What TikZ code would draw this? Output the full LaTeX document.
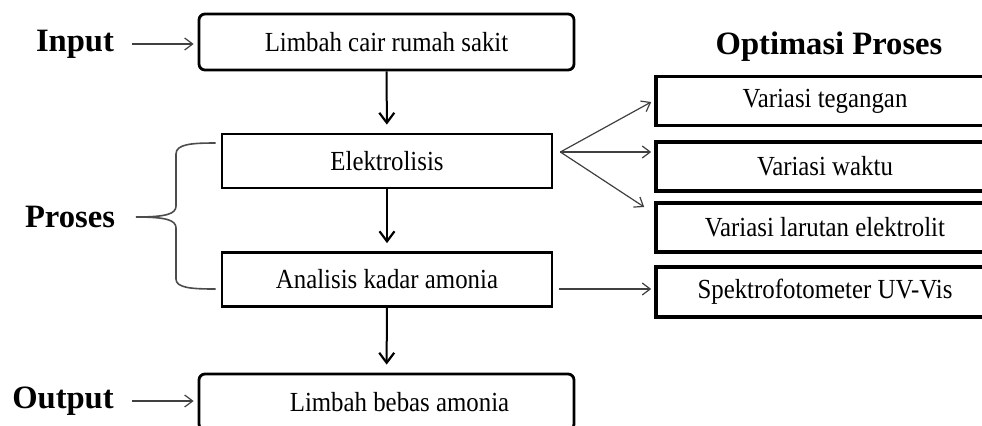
\documentclass[tikz,border=0pt]{standalone}
\usepackage{fontspec}
\setmainfont{Liberation Serif}
\newfontfamily\boxfont{Liberation Serif}[FakeStretch=0.9]
\usepackage{tikz}
\usetikzlibrary{arrows.meta}
\usetikzlibrary{calc}
\tikzset{
	proc node/.style={draw,line width=1.4pt,minimum width=165pt,minimum height=27pt,inner sep=0pt,font=\boxfont\fontsize{13.8}{16}\selectfont},
	end node/.style={proc node,rounded corners=3pt,minimum width=187.5pt,minimum height=28pt},
	opt node/.style={draw,line width=1.8pt,minimum width=169pt,minimum height=24.5pt,inner sep=0pt,font=\boxfont\fontsize{13.8}{16}\selectfont},
	head text/.style={font=\fontsize{16.3}{19}\selectfont\bfseries,inner sep=1pt},
	flow/.style={-{Straight Barb[length=5pt,width=7.5pt,line width=1.1pt]},line width=1pt,shorten >=4pt},
	side/.style={-{Straight Barb[length=4pt,width=6pt]},line width=0.6pt,draw=black!75},
	brace line/.style={line width=0.8pt,draw=black!70}
}

\begin{document}
\begin{tikzpicture}[x=0.5pt,y=-0.5pt]
	\useasboundingbox (0,0) rectangle (982,425);
	\clip (0,0) rectangle (982,425);
	% main column
	\node [end node] (src) at (386.5,42) {Limbah cair rumah sakit};
	\node [proc node] (elek) at (387,161) {Elektrolisis};
	\node [proc node] (anal) at (387,279.5) {Analisis kadar amonia};
	\node [end node] (out) at (386.5,402) {\hspace*{13pt}Limbah bebas amonia};
	% headings
	\node [head text] (inl) at (75,44) {Input};
	\node [head text] (prol) at (70,217) {Proses};
	\node [head text] (outl) at (63,401) {Output};
	\node [head text] (optl) at (829,47) {Optimasi Proses};
	% optimasi boxes
	\node [opt node] (teg) at (825,101) {Variasi tegangan};
	\node [opt node] (wkt) at (825,166.5) {Variasi waktu};
	\node [opt node] (lar) at (825,227.5) {Variasi larutan elektrolit};
	\node [opt node,minimum height=25pt] (spk) at (825,292) {Spektrofotometer UV-Vis};

	\draw [flow] (src) -- (elek);
	\draw [flow] (elek) -- (anal);
	\draw [flow] (anal) -- (out);
	\draw [side,shorten <=8pt,shorten >=2pt] (inl.east) -- (inl.east -| src.west);
	\draw [side,shorten <=8pt,shorten >=2pt] (outl.east) -- (outl.east -| out.west);

	\coordinate (fork) at ($(elek.east)+(7,-9)$);
	\draw [side] (fork) -- ($(teg.west)+(-3,1)$);
	\draw [side] (fork) -- ($(wkt.west)+(-3,-14.5)$);
	\draw [side] (fork) -- ($(lar.west)+(-10,-20.5)$);
	\draw [side] ($(anal.east)+(6,9.5)$) -- ($(spk.west)+(-3,-3)$);

	% brace
	\coordinate (bt) at ($(elek.west)+(-5,-18)$);
	\coordinate (bb) at ($(anal.west)+(-5,9.5)$);
	\coordinate (tip) at (136,217);
	\draw [brace line] (bt) .. controls (192,143) and (176,144) .. (176,154) -- (176,206)
		.. controls (176,214) and (166,217) .. (tip);
	\draw [brace line] (bb) .. controls (192,289) and (176,288) .. (176,279) -- (176,228)
		.. controls (176,220) and (166,217) .. (tip);
\end{tikzpicture}
\end{document}
